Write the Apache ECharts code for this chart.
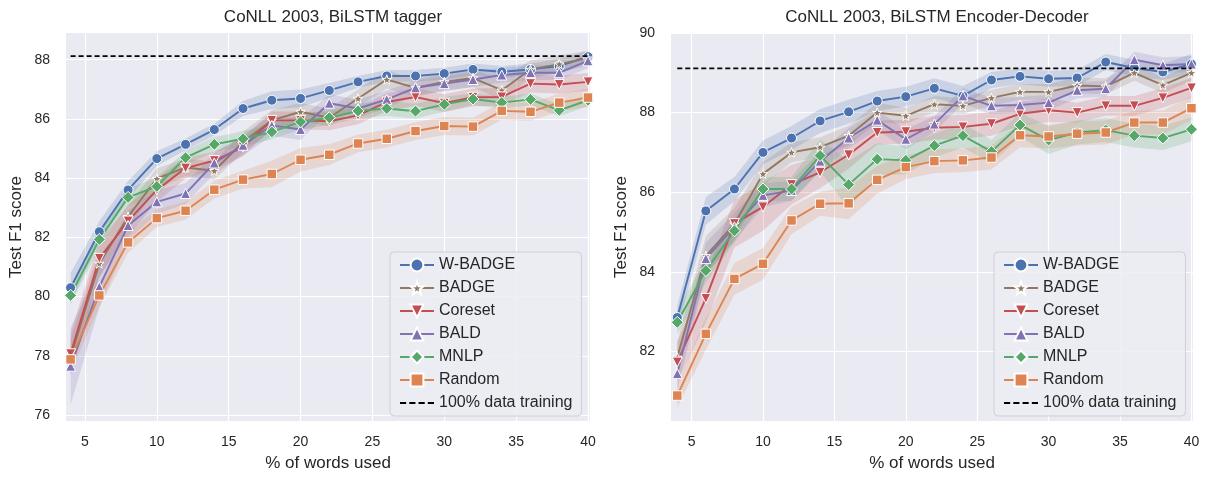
<!DOCTYPE html>
<html>
<head>
<meta charset="utf-8">
<script src="https://cdn.jsdelivr.net/npm/echarts@6/dist/echarts.min.js"></script>
<style>
html,body{margin:0;padding:0;background:#fff;}
#chart{width:1207px;height:477px;}
</style>
</head>
<body>
<div id="chart"></div>
<script>
// ---------------- data ----------------
const xs = [4,6,8,10,12,14,16,18,20,22,24,26,28,30,32,34,36,38,40];
const methods = ['W-BADGE','BADGE','Coreset','BALD','MNLP','Random'];
const refName = '100% data training';
const xTicks = [5,10,15,20,25,30,35,40];
const taggerYTicks = [76,78,80,82,84,86,88];
const encdecYTicks = [82,84,86,88,90];
const titles = ['CoNLL 2003, BiLSTM tagger','CoNLL 2003, BiLSTM Encoder-Decoder'];

// Panel 1: BiLSTM tagger (mean F1)
const taggerWBadge = [80.3,82.19,83.6,84.66,85.14,85.64,86.35,86.63,86.69,86.96,87.25,87.45,87.45,87.53,87.67,87.59,87.67,87.78,88.1];
const taggerBadge  = [77.95,81.12,82.7,83.98,84.36,84.25,85.22,85.95,86.24,86.04,86.69,87.33,87.05,87.25,87.38,86.97,87.67,87.85,88.05];
const taggerCoreset= [78.07,81.29,82.55,83.6,84.34,84.59,85.05,85.95,85.95,85.92,86.12,86.57,86.74,86.53,86.73,86.74,87.19,87.16,87.25];
const taggerBald   = [77.65,80.33,82.4,83.2,83.48,84.51,85.11,85.78,85.64,86.53,86.35,86.66,87.05,87.19,87.33,87.48,87.56,87.56,87.96];
const taggerMnlp   = [80.04,81.93,83.35,83.72,84.69,85.14,85.33,85.56,85.9,86.04,86.27,86.35,86.26,86.49,86.67,86.55,86.66,86.29,86.63];
const taggerRandom = [77.88,80.04,81.83,82.65,82.9,83.61,83.95,84.14,84.62,84.79,85.17,85.33,85.59,85.76,85.74,86.27,86.24,86.55,86.72];
const taggerRef = 88.12;
// Panel 1: confidence band half-widths
const taggerWBadgeCi = [0.5,0.35,0.3,0.25,0.2,0.2,0.25,0.3,0.3,0.25,0.2,0.2,0.2,0.2,0.2,0.2,0.2,0.25,0.2];
const taggerBadgeCi  = [0.6,0.5,0.4,0.35,0.3,0.3,0.35,0.35,0.3,0.3,0.3,0.3,0.3,0.3,0.3,0.35,0.3,0.3,0.25];
const taggerCoresetCi= [0.7,0.6,0.5,0.4,0.35,0.3,0.3,0.3,0.3,0.3,0.3,0.3,0.3,0.3,0.3,0.3,0.3,0.3,0.3];
const taggerBaldCi   = [1.3,0.7,0.5,0.4,0.35,0.35,0.35,0.35,0.35,0.3,0.3,0.3,0.25,0.25,0.25,0.25,0.25,0.25,0.25];
const taggerMnlpCi   = [0.3,0.3,0.3,0.3,0.25,0.25,0.25,0.25,0.25,0.25,0.25,0.25,0.25,0.25,0.2,0.2,0.2,0.2,0.2];
const taggerRandomCi = [0.4,0.4,0.35,0.3,0.3,0.3,0.3,0.45,0.4,0.35,0.3,0.3,0.3,0.3,0.3,0.3,0.3,0.3,0.3];

// Panel 2: BiLSTM Encoder-Decoder (mean F1)
const encdecWBadge = [82.85,85.53,86.08,87.0,87.36,87.79,88.02,88.29,88.4,88.61,88.42,88.82,88.91,88.85,88.87,89.27,89.12,89.02,89.22];
const encdecBadge  = [81.85,84.4,85.2,86.46,87.0,87.13,87.42,88.0,87.92,88.21,88.17,88.37,88.52,88.52,88.68,88.66,89.0,88.69,89.0];
const encdecCoreset= [81.73,83.33,85.21,85.63,86.19,86.5,86.94,87.5,87.52,87.62,87.64,87.72,87.97,88.06,88.0,88.17,88.17,88.37,88.62];
const encdecBald   = [81.44,84.33,85.13,85.92,86.04,86.78,87.36,87.81,87.33,87.71,88.42,88.17,88.19,88.25,88.56,88.6,89.33,89.19,89.22];
const encdecMnlp   = [82.73,84.03,85.03,86.08,86.08,86.92,86.19,86.83,86.8,87.17,87.42,87.02,87.69,87.31,87.5,87.56,87.42,87.36,87.58];
const encdecRandom = [80.89,82.44,83.82,84.2,85.29,85.71,85.72,86.31,86.63,86.78,86.8,86.87,87.43,87.4,87.47,87.5,87.75,87.75,88.11];
const encdecRef = 89.11;
// Panel 2: confidence band half-widths
const encdecWBadgeCi = [0.3,0.35,0.3,0.3,0.3,0.3,0.3,0.25,0.25,0.25,0.25,0.2,0.2,0.2,0.2,0.2,0.2,0.2,0.25];
const encdecBadgeCi  = [0.4,0.5,0.4,0.3,0.25,0.25,0.25,0.25,0.2,0.2,0.2,0.2,0.2,0.2,0.2,0.2,0.2,0.2,0.2];
const encdecCoresetCi= [0.5,0.6,0.6,0.6,0.5,0.4,0.35,0.3,0.3,0.3,0.3,0.3,0.3,0.3,0.25,0.25,0.25,0.25,0.25];
const encdecBaldCi   = [0.4,0.4,0.35,0.3,0.25,0.25,0.25,0.25,0.25,0.2,0.2,0.2,0.2,0.2,0.2,0.2,0.2,0.2,0.2];
const encdecMnlpCi   = [0.3,0.3,0.3,0.3,0.3,0.4,0.6,0.4,0.35,0.3,0.3,0.3,0.3,0.35,0.3,0.3,0.3,0.3,0.3];
const encdecRandomCi = [0.3,0.4,0.4,0.4,0.35,0.3,0.4,0.35,0.3,0.3,0.3,0.3,0.3,0.3,0.3,0.3,0.3,0.3,0.3];

// ---------------- styles ----------------
const FONT = '"Liberation Sans", Arial, sans-serif';
const TXT = '#262626';
const STAR = 'path://M0,-10 L2.35,-3.24 L9.51,-3.09 L3.8,1.24 L5.88,8.09 L0,4 L-5.88,8.09 L-3.8,1.24 L-9.51,-3.09 L-2.35,-3.24 Z';
const DASH_ICON = 'path://M0,0h6v2h-6zM9,0h6v2h-6zM18,0h6v2h-6zM27,0h6v2h-6z';
const style = {
  'W-BADGE': {color:'#4c72b0', symbol:'circle', size:10, rot:0},
  'BADGE':   {color:'#937860', symbol:STAR, size:9.5, rot:0},
  'Coreset': {color:'#c44e52', symbol:'triangle', size:10, rot:180},
  'BALD':    {color:'#8172b3', symbol:'triangle', size:10, rot:0},
  'MNLP':    {color:'#55a868', symbol:'diamond', size:12, rot:0},
  'Random':  {color:'#dd8452', symbol:'rect', size:9.5, rot:0}
};

const panels = [
  {vals:[taggerWBadge,taggerBadge,taggerCoreset,taggerBald,taggerMnlp,taggerRandom],
   ci:[taggerWBadgeCi,taggerBadgeCi,taggerCoresetCi,taggerBaldCi,taggerMnlpCi,taggerRandomCi],
   ref:taggerRef, yTicks:taggerYTicks, ymin:75.8, ymax:88.9, xmin:3.68, xmax:40.14,
   grid:{left:66, top:33, width:524, height:389}, legend:{left:390, top:252}},
  {vals:[encdecWBadge,encdecBadge,encdecCoreset,encdecBald,encdecMnlp,encdecRandom],
   ci:[encdecWBadgeCi,encdecBadgeCi,encdecCoresetCi,encdecBaldCi,encdecMnlpCi,encdecRandomCi],
   ref:encdecRef, yTicks:encdecYTicks, ymin:80.25, ymax:90, xmin:3.56, xmax:40.11,
   grid:{left:671, top:33, width:522, height:389}, legend:{left:994, top:252}}
];

const grids=[], xAxes=[], yAxes=[], series=[], legends=[], titleOpts=[];
panels.forEach((p, pi) => {
  grids.push(Object.assign({show:true, backgroundColor:'#eaeaf2', borderWidth:0, containLabel:false}, p.grid));
  titleOpts.push({text:titles[pi], left:p.grid.left + p.grid.width/2, top:4, textAlign:'center',
    textStyle:{fontFamily:FONT, fontSize:17, fontWeight:'normal', color:TXT}});
  xAxes.push({type:'value', gridIndex:pi, min:p.xmin, max:p.xmax,
    name:'% of words used', nameLocation:'middle', nameGap:34,
    nameTextStyle:{fontFamily:FONT, fontSize:17, color:TXT},
    axisLine:{show:false}, axisTick:{show:false, customValues:xTicks},
    axisLabel:{customValues:xTicks, fontFamily:FONT, fontSize:14, color:TXT, margin:14},
    splitLine:{show:true, lineStyle:{color:'#ffffff', width:1.2}}});
  yAxes.push({type:'value', gridIndex:pi, min:p.ymin, max:p.ymax,
    name:'Test F1 score', nameLocation:'middle', nameGap:41,
    nameTextStyle:{fontFamily:FONT, fontSize:17, color:TXT},
    axisLine:{show:false}, axisTick:{show:false, customValues:p.yTicks},
    axisLabel:{customValues:p.yTicks, fontFamily:FONT, fontSize:14, color:TXT, margin:16},
    splitLine:{show:true, lineStyle:{color:'#ffffff', width:1.2}}});

  methods.forEach((m, mi) => {
    const st = style[m];
    const v = p.vals[mi], ci = p.ci[mi];
    series.push({
      name:m, type:'line', xAxisIndex:pi, yAxisIndex:pi,
      data: xs.map((x,i)=>[x, v[i]]),
      symbol:st.symbol, symbolSize:st.size, symbolRotate:st.rot,
      showAllSymbol:true, animation:false,
      itemStyle:{color:st.color, borderColor:'#ffffff', borderWidth:1},
      lineStyle:{color:st.color, width:1.9}, z:2
    });
    // confidence band polygon, positioned through the axes' scales
    series.push({
      type:'custom', xAxisIndex:pi, yAxisIndex:pi, silent:true, animation:false, z:2,
      data:[[xs[0], v[0]]],
      renderItem:(params, api) => {
        const up = xs.map((x,i)=>api.coord([x, v[i]+ci[i]]));
        const lo = xs.map((x,i)=>api.coord([x, v[i]-ci[i]])).reverse();
        return {type:'polygon', shape:{points:up.concat(lo)},
                style:{fill:st.color, opacity:0.2}, silent:true};
      }
    });
  });
  series.push({
    name:refName, type:'line', xAxisIndex:pi, yAxisIndex:pi,
    data:[[xs[0], p.ref],[xs[xs.length-1], p.ref]],
    symbol:'none', animation:false, z:3,
    itemStyle:{color:'#000000'},
    lineStyle:{color:'#000000', width:1.8, type:[5,3]}
  });
  legends.push({
    left:p.legend.left, top:p.legend.top, orient:'vertical',
    data: methods.map(n=>({name:n})).concat([{name:refName, icon:DASH_ICON, itemStyle:{color:'#000000'}}]),
    itemWidth:34, itemHeight:16, itemGap:7,
    padding:[5,9,5,9],
    backgroundColor:'rgba(236,236,243,0.85)', borderColor:'#cfcfd6', borderWidth:1, borderRadius:4,
    textStyle:{fontFamily:FONT, fontSize:16, color:TXT},
    selectedMode:false, z:10
  });
});

const chart = echarts.init(document.getElementById('chart'), null, {renderer:'canvas'});
chart.setOption({
  animation:false,
  backgroundColor:'#ffffff',
  title:titleOpts, grid:grids, xAxis:xAxes, yAxis:yAxes, legend:legends, series:series
});
</script>
</body>
</html>
